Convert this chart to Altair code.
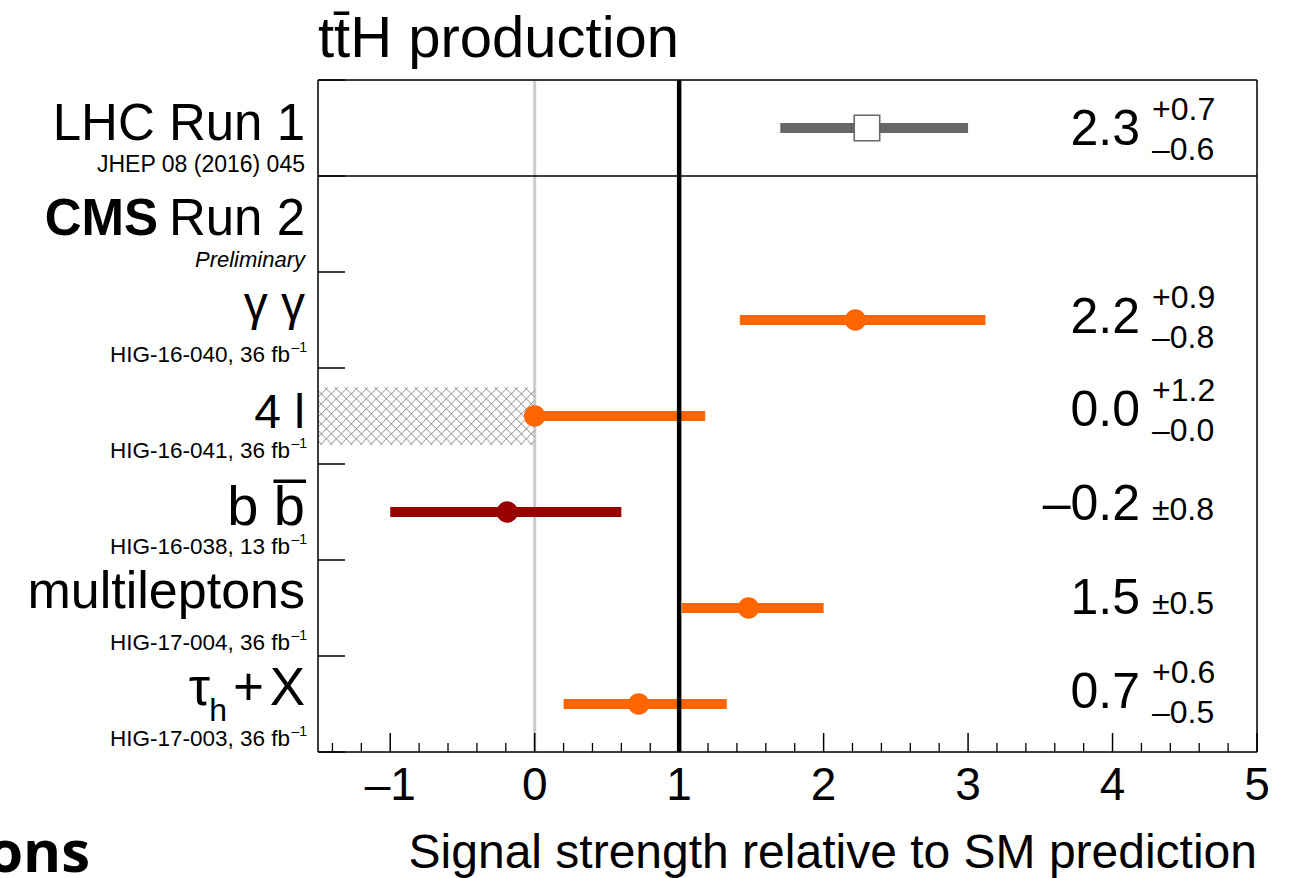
import altair as alt
import pandas as pd
import numpy as np

# ---------------- data ----------------
labels = ["LHC Run 1", "γγ", "4l", "bb", "multileptons", "τh+X"]
row_pos = [0.5, 2.5, 3.5, 4.5, 5.5, 6.5]
mu = [2.3, 2.22, 0.0, -0.19, 1.48, 0.72]
mu_lo = [1.7, 1.42, 0.0, -1.0, 1.02, 0.2]
mu_hi = [3.0, 3.12, 1.18, 0.6, 2.0, 1.33]
groups = ["run1", "cms", "cms", "cms_bb", "cms", "cms"]
val_text = ["2.3", "2.2", "0.0", "–0.2", "1.5", "0.7"]
up_text = ["+0.7", "+0.9", "+1.2", "", "", "+0.6"]
dn_text = ["–0.6", "–0.8", "–0.0", "", "", "–0.5"]
sym_text = ["", "", "", "±0.8", "±0.5", ""]
refs = ["JHEP 08 (2016) 045", "HIG-16-040, 36 fb", "HIG-16-041, 36 fb",
        "HIG-16-038, 13 fb", "HIG-17-004, 36 fb", "HIG-17-003, 36 fb"]
row_edges = [0, 1, 2, 3, 4, 5, 6, 7]
x_major = [-1, 0, 1, 2, 3, 4, 5]
x_major_labels = ["–1", "0", "1", "2", "3", "4", "5"]
x_minor = [round(v, 1) for v in np.arange(-1.4, 5.0, 0.2) if abs(v - round(v)) > 1e-6]
sm_lines = [0.0, 1.0]

# ---------------- layout ----------------
W, H = 939, 672
XMIN, XMAX = -1.5, 5.0
NROWS = 7
FONT = "Liberation Sans"

xs = alt.Scale(domain=[XMIN, XMAX], nice=False, zero=False)
ys = alt.Scale(domain=[0, NROWS], nice=False, zero=False, reverse=True)


def X(f):
    return alt.X(f, type="quantitative", scale=xs, axis=None)


def Y(f):
    return alt.Y(f, type="quantitative", scale=ys, axis=None)


meas = pd.DataFrame(dict(label=labels, pos=row_pos, mu=mu, lo=mu_lo, hi=mu_hi,
                         grp=groups, val=val_text, up=up_text, dn=dn_text,
                         sym=sym_text, ref=refs))

color = alt.Color("grp:N", scale=alt.Scale(domain=["run1", "cms", "cms_bb"],
                                           range=["#666666", "#ff6600", "#990000"]),
                  legend=None)

# hatch box (excluded region mu < 0 for the 4l channel)
px_x = W / (XMAX - XMIN)
px_y = H / NROWS
hx = [XMIN, mu_lo[2]]
hy = [row_pos[2] - 0.3, row_pos[2] + 0.3]
bx0, bx1 = 0.0, (hx[1] - XMIN) * px_x
by0, by1 = hy[0] * px_y, hy[1] * px_y
step = 10.0
segs = []
c = by0 - bx1
while c <= by1 - bx0:
    xa, xb = max(bx0, by0 - c), min(bx1, by1 - c)
    if xb > xa:
        segs.append((xa, xa + c, xb, xb + c))
    c += step
c = by0 + bx0
while c <= by1 + bx1:
    xa, xb = max(bx0, c - by1), min(bx1, c - by0)
    if xb > xa:
        segs.append((xa, c - xa, xb, c - xb))
    c += step
hatch_df = pd.DataFrame([dict(x=XMIN + a / px_x, y=b / px_y, x2=XMIN + cc / px_x, y2=d / px_y)
                         for a, b, cc, d in segs])

hatch = alt.Chart(hatch_df).mark_rule(color="#808080", strokeWidth=0.9).encode(
    x=X("x"), x2=alt.X2("x2"), y=Y("y"), y2=alt.Y2("y2"))

ref_df = pd.DataFrame({"v": sm_lines})
zero_line = alt.Chart(ref_df).transform_filter("datum.v == 0").mark_rule(
    color="#cccccc", strokeWidth=3).encode(x=X("v"))
one_line = alt.Chart(ref_df).transform_filter("datum.v == 1").mark_rule(
    color="black", strokeWidth=4.5).encode(x=X("v"))

bars = alt.Chart(meas).mark_rule(strokeWidth=10, strokeCap="butt").encode(
    x=X("lo"), x2=alt.X2("hi"), y=Y("pos"), color=color)

circles = alt.Chart(meas).transform_filter("datum.grp != 'run1'").mark_point(
    shape="circle", filled=True, size=460, opacity=1).encode(
    x=X("mu"), y=Y("pos"), color=color)

square = alt.Chart(meas).transform_filter("datum.grp == 'run1'").mark_point(
    shape="square", filled=True, fill="white", stroke="#666666", strokeWidth=1.5,
    size=650, opacity=1, strokeOpacity=1, fillOpacity=1).encode(x=X("mu"), y=Y("pos"))

edge_df = pd.DataFrame({"y": row_edges})
hlines = alt.Chart(edge_df).transform_filter(
    "datum.y == 0 || datum.y == 1 || datum.y == 7").mark_rule(
    color="black", strokeWidth=1.5).encode(y=Y("y"))
frame_df = pd.DataFrame({"x": [XMIN, XMAX]})
vlines = alt.Chart(frame_df).mark_rule(color="black", strokeWidth=1.5).encode(x=X("x"))
yticks = alt.Chart(edge_df).mark_rule(color="black", strokeWidth=1.5).encode(
    y=Y("y"), x=alt.value(0), x2=alt.value(27))

major_df = pd.DataFrame({"t": x_major, "lab": x_major_labels})
minor_df = pd.DataFrame({"t": x_minor})
xticks_major = alt.Chart(major_df).mark_rule(color="black", strokeWidth=1.5).encode(
    x=X("t"), y=alt.value(H), y2=alt.value(H - 19))
xticks_minor = alt.Chart(minor_df).mark_rule(color="black", strokeWidth=1.3).encode(
    x=X("t"), y=alt.value(H), y2=alt.value(H - 9))
xlabels = alt.Chart(major_df).mark_text(align="center", baseline="alphabetic", fontSize=46,
                                        font=FONT, color="black").encode(
    x=X("t"), y=alt.value(H + 48), text="lab:N")


def label(pos, text, x, size, dy=0, align="right", **kw):
    d = pd.DataFrame({"pos": [pos], "t": [text]})
    return alt.Chart(d).mark_text(align=align, baseline="alphabetic", fontSize=size,
                                  dy=dy, font=kw.pop("font", FONT), color="black", **kw).encode(
        x=alt.value(x), y=Y("pos"), text="t:N")


LX = -13
texts = [
    label(row_pos[0], "LHC Run 1", LX, 51, dy=12),
    label(row_pos[0], refs[0], LX, 23, dy=44),
    label(1.5, "Run 2", LX, 51, dy=11),
    label(1.5, "CMS", -160, 51, dy=11, fontWeight="bold"),
    label(1.5, "Preliminary", LX, 22, dy=43, fontStyle="italic"),
    label(row_pos[1], "γ γ", LX, 48, dy=0),
    label(row_pos[2], "4 l", LX, 48, dy=12),
    label(row_pos[3], "b b\u0305", LX, 56, dy=13),
    label(row_pos[4], "multileptons", LX, 52, dy=0),
    label(row_pos[5], "X", LX, 53, dy=1),
    label(row_pos[5], "+", -54, 53, dy=1),
    label(row_pos[5], "h", -91, 32, dy=17),
    label(row_pos[5], "τ", -108, 54, dy=1),
]
for i in range(1, 6):
    texts.append(label(row_pos[i], refs[i], -28, 22.5, dy=42))
    texts.append(label(row_pos[i], "–1", -11, 14, dy=32))

vals_base = alt.Chart(meas).transform_calculate(
    yb="datum.pos + (18 - 2.17 * datum.pos) / 96")
val_big = vals_base.mark_text(align="right", baseline="alphabetic", fontSize=50,
                              font=FONT, color="black").encode(
    x=alt.value(822), y=Y("yb"), text="val:N")
val_up = vals_base.mark_text(align="left", baseline="alphabetic", fontSize=32, dy=-25,
                             font=FONT, color="black").encode(
    x=alt.value(834), y=Y("yb"), text="up:N")
val_dn = vals_base.mark_text(align="left", baseline="alphabetic", fontSize=32, dy=15,
                             font=FONT, color="black").encode(
    x=alt.value(834), y=Y("yb"), text="dn:N")
val_sym = vals_base.mark_text(align="left", baseline="alphabetic", fontSize=32,
                              font=FONT, color="black").encode(
    x=alt.value(834), y=Y("yb"), text="sym:N")

title = alt.Chart(pd.DataFrame({"t": ["tt\u0304H production"]})).mark_text(
    align="left", baseline="alphabetic", fontSize=58, font=FONT, color="black").encode(
    x=alt.value(0), y=alt.value(-23), text="t:N")
xtitle = alt.Chart(pd.DataFrame({"t": ["Signal strength relative to SM prediction"]})).mark_text(
    align="right", baseline="alphabetic", fontSize=48, font=FONT, color="black").encode(
    x=alt.value(W), y=alt.value(788), text="t:N")
ons = alt.Chart(pd.DataFrame({"t": ["ons"]})).mark_text(
    align="right", baseline="alphabetic", fontSize=58, font="Open Sans",
    fontWeight="bold", color="black").encode(x=alt.value(-228), y=alt.value(792), text="t:N")

chart = alt.layer(
    zero_line, hatch, bars, one_line, hlines, vlines, yticks, xticks_major, xticks_minor,
    circles, square, xlabels, *texts, val_big, val_up, val_dn, val_sym, title, xtitle, ons
).properties(
    width=W, height=H,
    autosize=alt.AutoSizeParams(type="none"),
    padding={"left": 318, "top": 80, "right": 34, "bottom": 126},
).configure_view(stroke=None).configure(font=FONT, background="white")

chart.save("out.html", embed_options={"renderer": "svg", "actions": False})
